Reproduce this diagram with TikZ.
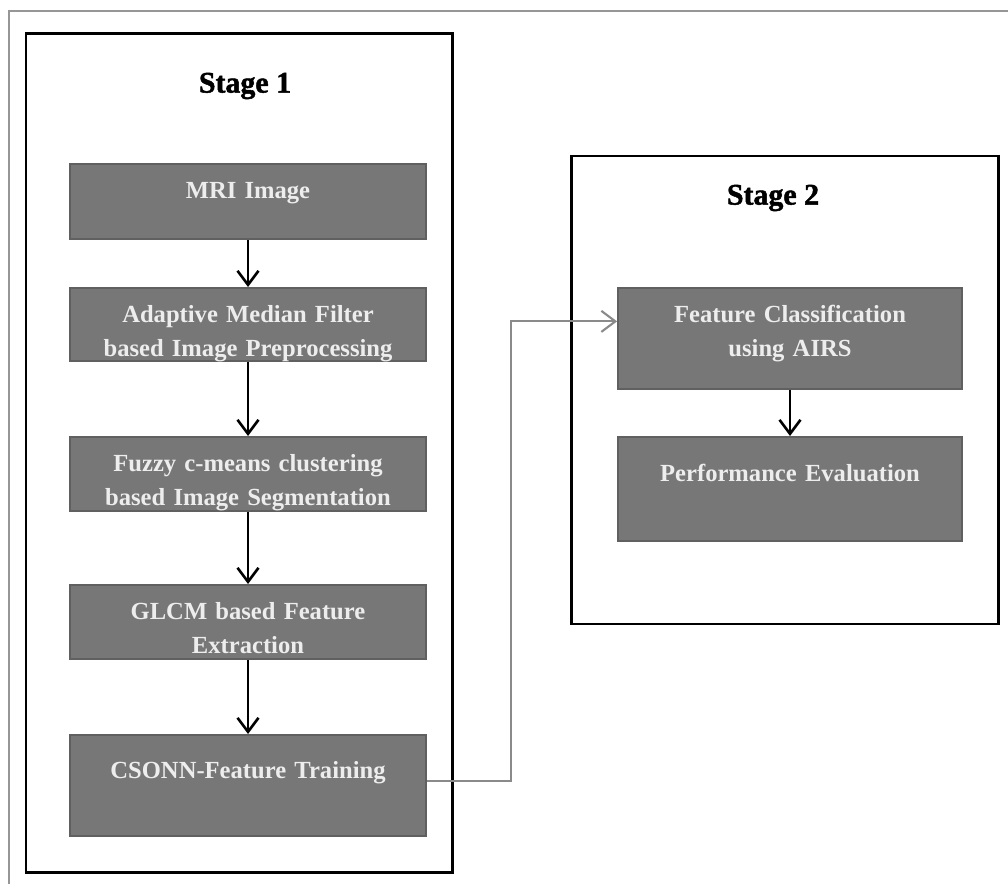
\documentclass[tikz,border=0pt]{standalone}
\usepackage{fontspec}
\setmainfont{Liberation Serif}
\newfontfamily\stagefont{Liberation Serif}[BoldFeatures={FakeBold=1.6}]
\usetikzlibrary{
    arrows.meta,
    positioning
}
\definecolor{boxgray}{RGB}{119,119,119}
\definecolor{boxedge}{RGB}{96,96,96}
\definecolor{linkgray}{RGB}{138,138,138}
\definecolor{framegray}{RGB}{150,150,150}

\begin{document}
\begin{tikzpicture}[
    procbox/.style={fill=boxgray, draw=boxedge, line width=1pt, text=white!93!black,
        font=\fontsize{14}{19}\selectfont\bfseries, align=center,
        inner xsep=0pt, inner ysep=0pt, anchor=north, text height=0.7cm},
    stagebox/.style={draw=black, line width=1.7pt},
    stagelabel/.style={font=\stagefont\fontsize{17}{20}\selectfont\bfseries},
    >={Straight Barb[length=0.28cm, width=0.42cm]}
]
\useasboundingbox (0,0) rectangle (20.16,-17.68);
\draw[framegray, line width=1.2pt] (20.16,-0.22) -- (0.18,-0.22) -- (0.18,-17.68);

% stage 1
\draw[stagebox] (0.52,-0.68) rectangle (9.04,-17.44);
\node[stagelabel] (s1) at (4.9,-1.72) {Stage 1};
\node[procbox, text width=7.12cm, text depth=0.80cm] (mri) at (4.96,-3.26) {MRI Image};
\node[procbox, text width=7.12cm, text depth=0.76cm] (adapt) at (4.96,-5.74) {Adaptive Median Filter\\based Image Preprocessing};
\node[procbox, text width=7.12cm, text depth=0.78cm] (fuzzy) at (4.96,-8.72) {Fuzzy c-means clustering\\based Image Segmentation};
\node[procbox, text width=7.12cm, text depth=0.78cm] (glcm) at (4.96,-11.68) {GLCM based Feature\\Extraction};
\node[procbox, text width=7.12cm, text height=0.88cm, text depth=1.14cm] (csonn) at (4.96,-14.68) {CSONN-Feature Training};

% stage 2
\draw[stagebox] (11.42,-3.12) rectangle (19.96,-12.48);
\node[stagelabel] (s2) at (15.46,-3.96) {Stage 2};
\node[procbox, text width=6.88cm, text depth=1.32cm] (airs) at (15.8,-5.74) {Feature Classification\\using AIRS};
\node[procbox, text width=6.88cm, text height=0.9cm, text depth=1.18cm] (perf) at (15.8,-8.72) {Performance Evaluation};

\draw[line width=1.5pt]
(mri) edge[->] (adapt)
(adapt) edge[->] (fuzzy)
(fuzzy) edge[->] (glcm)
(glcm) edge[->] (csonn)
(airs) edge[->] (perf);

\draw[linkgray, line width=1.2pt, ->] ([yshift=0.09cm]csonn.east) -- ++(1.68,0) |- ([yshift=0.34cm]airs.west);
\end{tikzpicture}
\end{document}
